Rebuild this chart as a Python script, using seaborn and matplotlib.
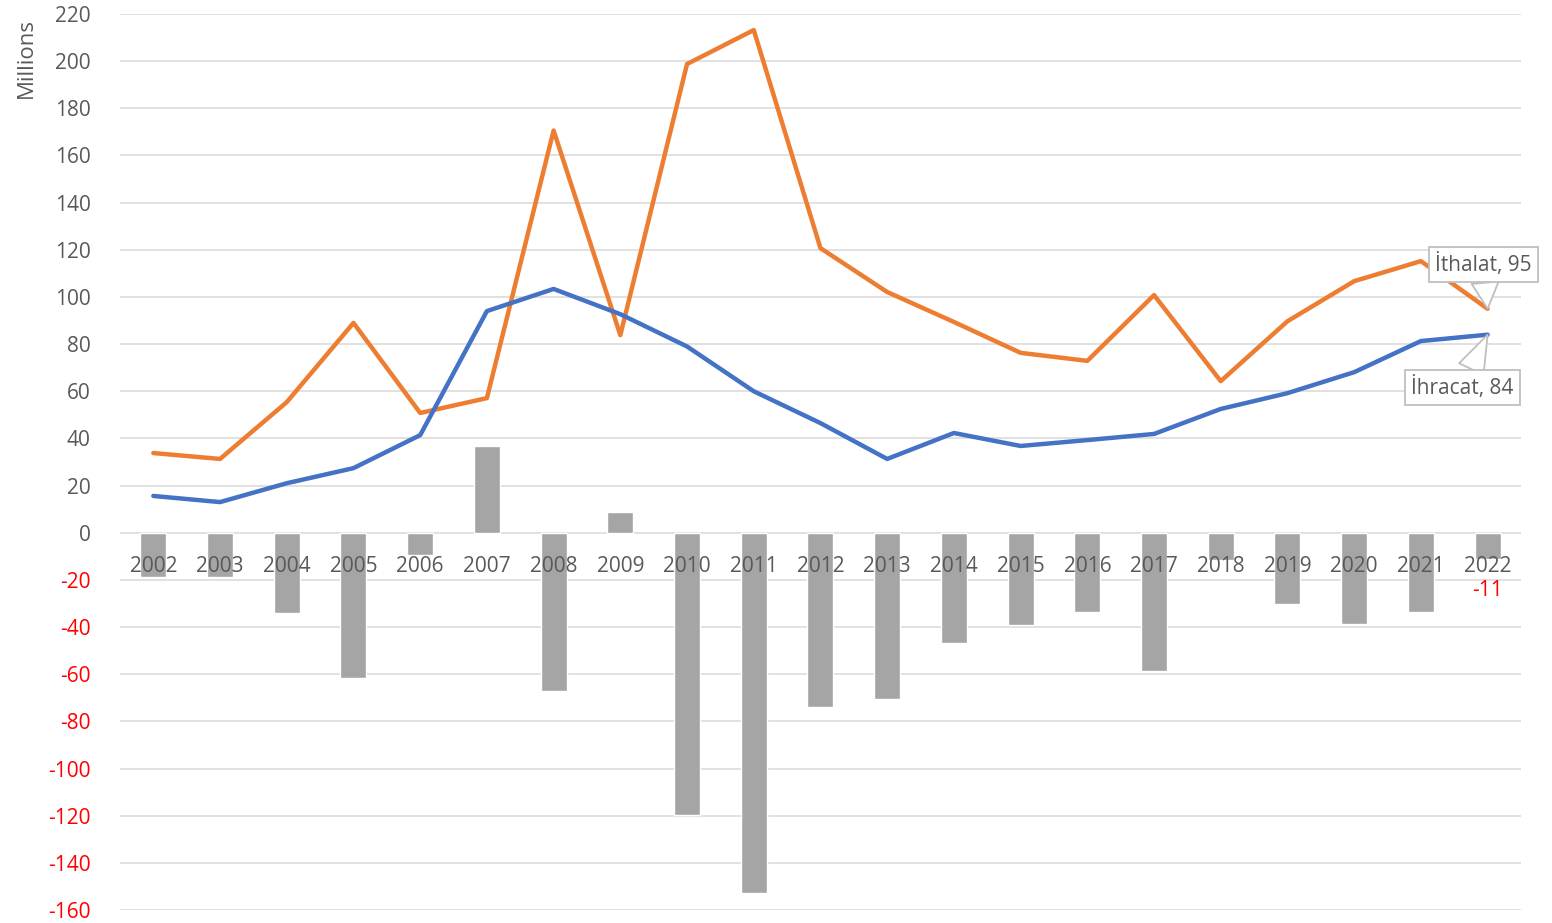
import matplotlib
matplotlib.use("Agg")
import matplotlib.pyplot as plt
import seaborn as sns
import pandas as pd
import numpy as np

years = [str(y) for y in range(2002, 2023)]
ihracat = [15.6, 13.0, 21.0, 27.4, 41.4, 94.0, 103.4, 92.7, 79.0, 60.0, 46.5,
           31.3, 42.3, 36.8, 39.3, 41.9, 52.5, 59.2, 68.1, 81.3, 84.0]
ithalat = [33.8, 31.3, 55.4, 89.0, 50.8, 57.1, 170.6, 83.8, 198.8, 213.2, 120.7,
           102.1, 89.4, 76.3, 72.9, 100.8, 64.3, 89.7, 106.7, 115.2, 95.0]
denge = [-18.6, -18.6, -34.2, -61.6, -9.4, 36.8, -67.1, 9.0, -119.7, -152.9, -74.0,
         -70.6, -46.9, -39.2, -33.6, -58.8, -11.4, -30.3, -38.6, -33.8, -11.0]
yticks = list(range(-160, 221, 20))

BLUE = "#4472C4"
ORANGE = "#ED7D31"
GRAY = "#A5A5A5"
TXT = "#595959"
RED = "#FF0000"
FS = 15

sns.set_theme(style="white")
plt.rcParams["font.family"] = ["Open Sans", "DejaVu Sans"]

df = pd.DataFrame({"year": years, "idx": np.arange(len(years)),
                   "ihracat": ihracat, "ithalat": ithalat, "denge": denge})

fig = plt.figure(figsize=(15.52, 9.23), dpi=100)
ax = fig.add_axes([0.0773, 0.0141, 0.9027, 0.9707])

sns.barplot(data=df, x="idx", y="denge", color=GRAY, width=0.39, ax=ax,
            saturation=1, zorder=2, native_scale=True)
sns.lineplot(data=df, x="idx", y="ithalat", color=ORANGE, linewidth=3.2, ax=ax, zorder=3)
sns.lineplot(data=df, x="idx", y="ihracat", color=BLUE, linewidth=3.2, ax=ax, zorder=4)

ax.set_xlim(-0.5, len(years) - 0.5)
ax.set_ylim(-160, 220)
ax.set_yticks(yticks)
ax.set_yticklabels([str(t) for t in yticks], fontsize=FS)
for lbl, t in zip(ax.get_yticklabels(), yticks):
    lbl.set_color(RED if t < 0 else TXT)
ax.tick_params(axis="y", length=0, pad=21)
ax.set_xticks([])
ax.set_xlabel("")
ax.set_ylabel("")
for s in ax.spines.values():
    s.set_visible(False)
ax.set_axisbelow(True)
ax.yaxis.grid(True, color="#D9D9D9", linewidth=1.1)

for i, y in enumerate(years):
    ax.annotate(y, xy=(i, 0), xytext=(0, -17), textcoords="offset points",
                ha="center", va="top", fontsize=FS, color=TXT, zorder=6)

ax.annotate(f"{denge[-1]:.0f}", xy=(len(years) - 1, 0), xytext=(0, -34),
            textcoords="offset points", ha="center", va="top", fontsize=FS,
            color=RED, zorder=6)

fig.text(0.010, 0.980, "Millions", rotation=90, ha="left", va="top",
         fontsize=16, color=TXT)

n = len(years) - 1
ax.annotate(f"İthalat, {ithalat[-1]:.0f}", xy=(n, ithalat[-1]), xytext=(-3, 32),
            textcoords="offset points", ha="center", va="center", fontsize=FS,
            color=TXT, zorder=7,
            bbox=dict(boxstyle="square,pad=0.3", fc="white", ec="#BFBFBF", lw=1.3),
            arrowprops=dict(arrowstyle="wedge,tail_width=1.3", fc="white",
                            ec="#BFBFBF", lw=1.3, shrinkA=0, shrinkB=0))
ax.annotate(f"İhracat, {ihracat[-1]:.0f}", xy=(n, ihracat[-1]), xytext=(-18, -38),
            textcoords="offset points", ha="center", va="center", fontsize=FS,
            color=TXT, zorder=7,
            bbox=dict(boxstyle="square,pad=0.3", fc="white", ec="#BFBFBF", lw=1.3),
            arrowprops=dict(arrowstyle="wedge,tail_width=1.3", fc="white",
                            ec="#BFBFBF", lw=1.3, shrinkA=0, shrinkB=0))

fig.savefig("out.png", dpi=100, facecolor="white")
